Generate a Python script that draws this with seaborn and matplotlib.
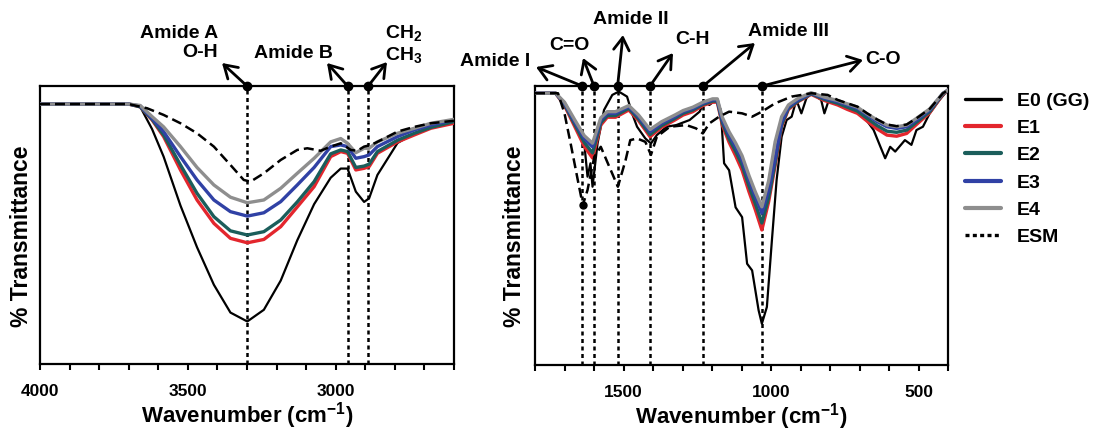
import matplotlib
matplotlib.use("Agg")
import matplotlib.pyplot as plt
import seaborn as sns
from matplotlib.ticker import MultipleLocator

# Transmittance in arbitrary % (0 = bottom axis, 100 = top frame)

# ---- left panel: 4000-2600 cm-1 ----
wn_left = [4000, 3700, 3661, 3621, 3582, 3525, 3469, 3412, 3356, 3299, 3243, 3186, 3130,
           3073, 3017, 2983, 2960, 2932, 2904, 2887, 2859, 2791, 2734, 2678, 2600]
e0_left = [93.5, 93.5, 92.5, 84.5, 74.6, 57.0, 42.0, 28.5, 18.5, 15.3, 19.5, 30.0, 44.5,
           57.5, 67.0, 70.3, 70.3, 62.0, 58.3, 59.6, 68.0, 79.5, 83.0, 85.3, 87.2]
e1_left = [93.5, 93.5, 92.5, 87.8, 81.8, 69.8, 59.0, 50.6, 45.2, 43.6, 44.8, 49.4, 56.5,
           63.8, 74.6, 76.4, 75.8, 69.8, 70.4, 71.0, 75.8, 79.9, 82.4, 84.8, 86.6]
e2_left = [93.5, 93.5, 92.5, 88.0, 82.4, 71.6, 61.4, 53.0, 47.9, 46.4, 47.6, 51.8, 58.3,
           65.6, 75.6, 77.0, 76.4, 70.7, 71.2, 71.9, 76.4, 80.5, 83.0, 85.1, 87.2]
e3_left = [93.5, 93.5, 92.8, 88.3, 83.6, 74.6, 66.2, 59.0, 54.8, 53.2, 54.4, 58.4, 64.4,
           70.7, 78.2, 78.8, 78.2, 74.0, 74.6, 75.2, 78.2, 81.8, 84.2, 86.0, 87.8]
e4_left = [93.5, 93.5, 93.0, 89.0, 85.3, 78.2, 70.7, 64.4, 60.0, 58.0, 59.0, 63.2, 68.6,
           74.0, 79.9, 81.1, 79.4, 76.0, 77.6, 77.6, 79.9, 83.0, 84.8, 86.6, 88.0]
wn_esm_left = [4000, 3700, 3638, 3582, 3525, 3469, 3412, 3356, 3311, 3288, 3243, 3186, 3130,
               3096, 3051, 3017, 2983, 2949, 2927, 2904, 2881, 2859, 2791, 2734, 2678, 2600]
esm_left = [93.5, 93.5, 92.0, 89.6, 86.6, 83.0, 78.2, 71.6, 66.2, 65.6, 68.6, 73.4, 77.0,
            77.6, 76.7, 78.2, 79.4, 77.0, 76.7, 78.2, 78.8, 79.9, 83.6, 85.3, 86.6, 87.5]

# ---- right panel: 1800-400 cm-1 ----
wn_right = [1800, 1730, 1700, 1666, 1633, 1605, 1577, 1555, 1527, 1482, 1449, 1410, 1371,
            1326, 1298, 1265, 1231, 1198, 1182, 1165, 1142, 1120, 1098, 1075, 1053, 1031,
            1008, 986, 964, 941, 908, 864, 819, 774, 741, 707, 674, 640, 607, 574, 540,
            507, 462, 417, 400]
e1_right = [97.4, 97.4, 93.0, 85.6, 78.4, 74.2, 86.0, 88.8, 88.8, 91.4, 87.6, 81.8, 85.2,
            87.8, 89.6, 90.8, 93.0, 94.2, 94.2, 86.0, 79.8, 75.0, 69.8, 62.2, 55.6, 48.4,
            58.5, 71.5, 85.5, 91.6, 94.4, 97.0, 94.8, 93.2, 91.6, 90.2, 87.4, 84.6, 82.4,
            82.0, 83.0, 86.2, 90.4, 97.0, 98.5]
e2_right = [97.4, 97.4, 93.4, 86.4, 79.8, 76.0, 86.8, 89.4, 89.4, 92.0, 88.2, 82.6, 85.8,
            88.4, 90.2, 91.4, 93.4, 94.6, 94.6, 86.8, 81.0, 76.6, 71.6, 64.2, 57.8, 50.9,
            60.0, 72.5, 86.0, 92.0, 94.6, 97.2, 95.2, 93.8, 92.4, 91.0, 88.4, 85.8, 83.8,
            83.4, 84.2, 87.0, 90.8, 97.2, 98.5]
e3_right = [97.4, 97.4, 93.8, 87.2, 81.2, 78.2, 87.8, 90.2, 90.2, 92.6, 89.0, 83.6, 86.6,
            89.0, 90.8, 91.9, 93.8, 95.0, 95.0, 87.8, 82.4, 78.2, 73.5, 66.3, 60.3, 54.4,
            62.7, 74.0, 87.0, 92.5, 95.0, 97.4, 95.6, 94.4, 93.2, 92.0, 89.6, 87.2, 85.4,
            84.8, 85.4, 87.8, 91.4, 97.4, 98.5]
e4_right = [97.4, 97.4, 94.2, 88.0, 82.2, 79.5, 88.6, 90.8, 90.8, 93.0, 89.6, 84.4, 87.2,
            89.6, 91.2, 92.4, 94.2, 95.4, 95.4, 88.8, 83.6, 79.6, 75.0, 68.0, 62.0, 56.7,
            66.0, 80.0, 89.0, 93.2, 95.6, 97.6, 96.0, 94.8, 93.6, 92.4, 90.0, 87.8, 86.0,
            85.4, 86.0, 88.4, 91.8, 97.4, 98.5]
wn_e0_right = [1800, 1730, 1700, 1666, 1633, 1622, 1612, 1605, 1588, 1566, 1538, 1516, 1488,
               1471, 1454, 1426, 1407, 1387, 1354, 1321, 1276, 1242, 1226, 1209, 1187, 1170,
               1159, 1142, 1120, 1098, 1081, 1064, 1042, 1031, 1014, 997, 981, 964, 947, 930,
               914, 897, 880, 863, 830, 819, 802, 741, 685, 652, 629, 613, 596, 579, 546,
               524, 507, 485, 462, 429, 400]
e0_right = [97.4, 97.4, 93.8, 86.6, 79.5, 67.5, 72.3, 63.9, 79.4, 91.4, 96.8, 98.0, 96.2,
            90.2, 85.4, 81.2, 79.4, 82.4, 85.4, 86.0, 87.8, 90.8, 94.4, 93.2, 95.0, 91.4,
            72.3, 69.8, 56.5, 53.0, 36.3, 33.9, 19.6, 14.8, 20.8, 44.6, 66.3, 81.8, 87.8, 89.0,
            95.0, 90.2, 95.6, 97.4, 95.0, 90.2, 95.6, 93.2, 89.0, 84.2, 78.2, 74.1, 78.2, 76.5,
            80.6, 78.9, 84.2, 85.4, 90.2, 95.0, 98.6]
wn_esm_right = [1800, 1722, 1700, 1677, 1655, 1638, 1622, 1599, 1577, 1543, 1519, 1493, 1477,
                1454, 1426, 1407, 1387, 1343, 1287, 1254, 1231, 1209, 1176, 1142, 1098, 1064,
                1031, 986, 930, 863, 808, 774, 741, 707, 674, 640, 607, 574, 540, 507, 462,
                417, 400]
esm_right = [97.4, 97.4, 90.2, 78.2, 66.3, 57.3, 62.7, 74.6, 78.2, 69.8, 63.9, 73.4, 80.6,
             81.2, 80.0, 75.3, 81.8, 85.4, 86.0, 84.8, 83.0, 86.6, 89.0, 90.8, 90.2, 89.0,
             90.8, 93.8, 96.2, 97.4, 96.8, 95.0, 93.8, 92.6, 90.2, 88.0, 86.2, 85.6, 86.2,
             88.4, 91.8, 97.4, 98.5]
esm_amide1_min = (1638, 57.3)

# band positions marked with dashed lines
bands_left = [3300, 2960, 2890]
bands_right = [1640, 1600, 1520, 1410, 1230, 1030]

series = ["E0 (GG)", "E1", "E2", "E3", "E4", "ESM"]
colors = ["black", "#e3262d", "#1b5e5b", "#3041a5", "#8e8e8e", "black"]

# ---- style ----
sns.set_style("ticks")
plt.rcParams['font.family'] = ['Liberation Sans', 'DejaVu Sans']
plt.rcParams['font.weight'] = 'bold'
plt.rcParams['mathtext.fontset'] = 'custom'
plt.rcParams['mathtext.rm'] = 'Liberation Sans:bold'
plt.rcParams['mathtext.it'] = 'Liberation Sans:bold'
plt.rcParams['mathtext.bf'] = 'Liberation Sans:bold'
plt.rcParams['text.color'] = 'black'
plt.rcParams['axes.labelcolor'] = 'black'
plt.rcParams['axes.edgecolor'] = 'black'
plt.rcParams['xtick.color'] = 'black'

W, H = 1102, 437
fig = plt.figure(figsize=(W / 100, H / 100), dpi=100)
ax_l = fig.add_axes([40 / W, 73 / H, 414 / W, 278 / H])
ax_r = fig.add_axes([535 / W, 72 / H, 413 / W, 279 / H])


def draw(ax, xs_list, ys_list):
    for i, (xs, ys) in enumerate(zip(xs_list, ys_list)):
        lw = 1.6 if i == 0 else 2.4
        ls = (0, (4, 2)) if series[i] == "ESM" else "-"
        if series[i] == "ESM":
            lw = 1.8
        sns.lineplot(x=xs, y=ys, ax=ax, color=colors[i], lw=lw, linestyle=ls,
                     label=series[i], legend=False, sort=False, estimator=None, zorder=3)


draw(ax_l, [wn_left, wn_left, wn_left, wn_left, wn_left, wn_esm_left],
     [e0_left, e1_left, e2_left, e3_left, e4_left, esm_left])
draw(ax_r, [wn_e0_right, wn_right, wn_right, wn_right, wn_right, wn_esm_right],
     [e0_right, e1_right, e2_right, e3_right, e4_right, esm_right])
ax_r.plot(*esm_amide1_min, "o", color="black", ms=5, zorder=4)

for ax, lim, major, bands, ylab_x in [(ax_l, (4000, 2600), [4000, 3500, 3000], bands_left, -0.017),
                                      (ax_r, (1800, 400), [1500, 1000, 500], bands_right, -0.022)]:
    ax.set_xlim(*lim)
    ax.set_ylim(0, 100)
    ax.set_xticks(major)
    ax.xaxis.set_minor_locator(MultipleLocator(100))
    ax.tick_params(axis="x", which="both", direction="out", length=4.5, width=1.5,
                   labelsize=12.5, pad=10, colors="black")
    ax.set_yticks([])
    for s in ax.spines.values():
        s.set_visible(True)
        s.set_linewidth(1.6)
        s.set_color("black")
    for b in bands:
        ax.axvline(b, color="black", lw=1.8, linestyle=(0, (1.6, 1.4)), zorder=2)
    ax.plot(bands, [1] * len(bands), "o", color="black", ms=6,
            transform=ax.get_xaxis_transform(), clip_on=False, zorder=5)
    ax.set_xlabel("Wavenumber (cm$^{-1}$)", fontsize=16, fontweight="bold", labelpad=1)
    ax.set_ylabel("% Transmittance", fontsize=16.5, fontweight="bold")
    ax.yaxis.set_label_coords(ylab_x, 0.46)

# ---- band annotations: (label, band, arrow head px, text px, ha) ----
notes_left = [("Amide A\nO-H", 3300, (222, 63), (218, 43), "right"),
              ("Amide B", 2960, (327, 63), (333, 53), "right"),
              ("CH$_2$\nCH$_3$", 2890, (387, 62), (385, 44), "left")]
notes_right = [("Amide I", 1640, (536, 67), (530, 62), "right"),
               ("C=O", 1600, (583, 58), (569, 45), "center"),
               ("Amide II", 1520, (623, 35), (631, 20), "center"),
               ("C-H", 1410, (673, 53), (675, 40), "left"),
               ("Amide III", 1230, (755, 43), (748, 32), "left"),
               ("C-O", 1030, (863, 60), (865, 60), "left")]

for ax, notes in [(ax_l, notes_left), (ax_r, notes_right)]:
    for text, band, head, pos, ha in notes:
        ax.annotate("", xy=(head[0] / W, 1 - head[1] / H), xycoords="figure fraction",
                    xytext=(band, 1), textcoords=ax.get_xaxis_transform(),
                    arrowprops=dict(arrowstyle="->,head_length=0.45,head_width=0.28",
                                    lw=2, color="black", shrinkA=0, shrinkB=0,
                                    mutation_scale=20),
                    annotation_clip=False)
        fig.text(pos[0] / W, 1 - pos[1] / H, text, ha=ha, va="center",
                 multialignment=ha if ha != "center" else "center",
                 fontsize=14, fontweight="bold", linespacing=1.15)

handles, labels = ax_r.get_legend_handles_labels()
leg = ax_r.legend(handles[:6], labels[:6], loc="upper left", bbox_to_anchor=(965 / W, 1 - 92 / H),
                  bbox_transform=fig.transFigure, frameon=False, fontsize=14, handlelength=1.85,
                  handletextpad=0.8, labelspacing=0.5, borderaxespad=0, borderpad=0)
for line, name in zip(leg.get_lines(), labels[:6]):
    line.set_linewidth(3 if line.get_color() != "black" else 2.4)
    if name == "ESM":
        line.set_linestyle((0, (1.2, 1.0)))

fig.savefig("out.png", dpi=100)
